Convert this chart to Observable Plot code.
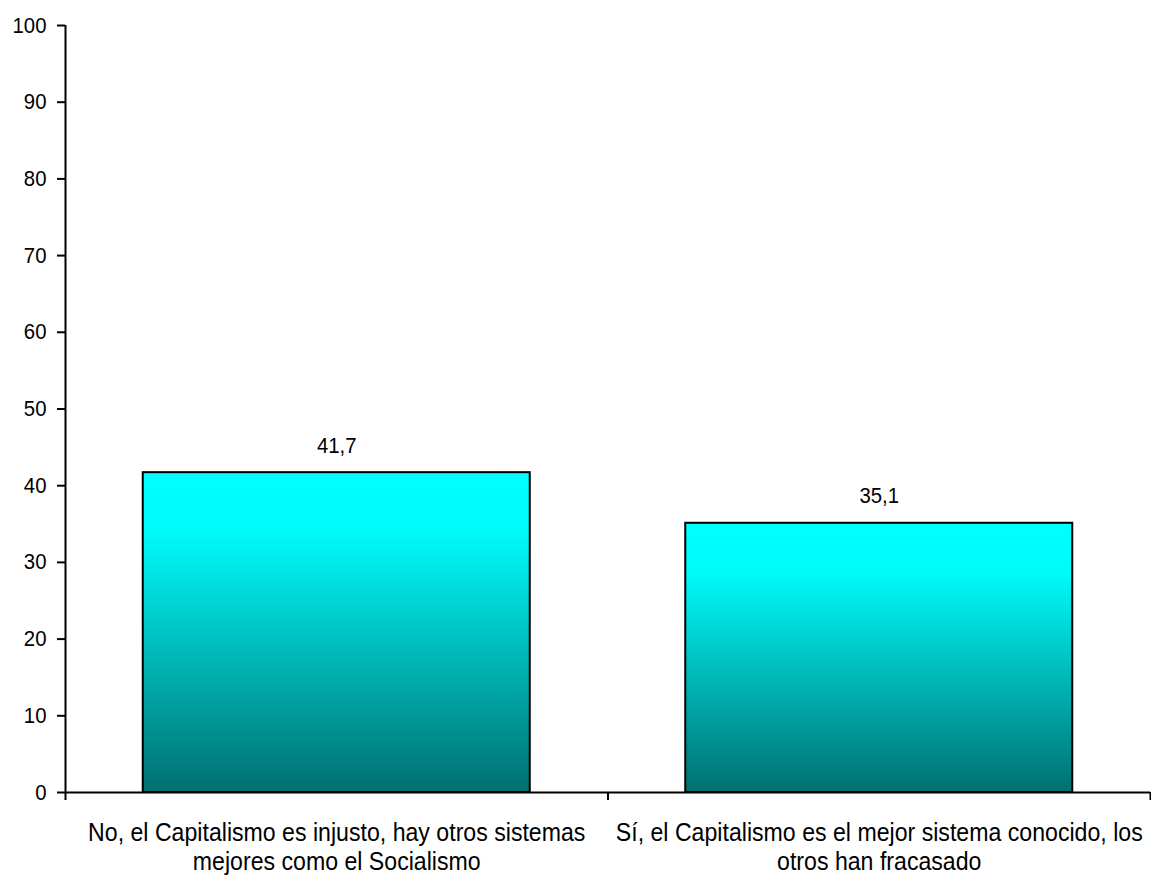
<!DOCTYPE html>
<html>
<head>
<meta charset="utf-8">
<script src="https://cdn.jsdelivr.net/npm/d3@7"></script>
<script src="https://cdn.jsdelivr.net/npm/@observablehq/plot@0.6"></script>
<style>
  html, body { margin: 0; padding: 0; background: #fff; }
  #chart svg { display: block; }
</style>
</head>
<body>
<div id="chart"></div>
<script>
const categories = [
  "No, el Capitalismo es injusto, hay otros sistemas\nmejores como el Socialismo",
  "Sí, el Capitalismo es el mejor sistema conocido, los\notros han fracasado"
];
const values = [41.7, 35.1];
const valueLabels = ["41,7", "35,1"];
const yTicks = [0, 10, 20, 30, 40, 50, 60, 70, 80, 90, 100];
const xBoundaries = [0, 1, 2];

const data = categories.map((c, i) => ({i, category: c, value: values[i], label: valueLabels[i]}));

const W = 1151, H = 882;
const font = "Liberation Sans, Arial, sans-serif";

const plot = Plot.plot({
  width: W,
  height: H,
  marginLeft: 65,
  marginRight: 1,
  marginTop: 25,
  marginBottom: 90,
  style: {fontFamily: font, fontSize: "22px", color: "#000", background: "#fff"},
  x: {type: "linear", domain: [0, 2], axis: null},
  y: {domain: [0, 100], axis: null},
  marks: [
    Plot.rectY(data, {
      x1: d => d.i, x2: d => d.i + 1, y1: 0, y2: "value",
      insetLeft: 77.75, insetRight: 77.75,
      fill: "url(#barGrad)", stroke: "#000", strokeWidth: 2
    }),
    Plot.ruleX([0], {stroke: "#000", strokeWidth: 2}),
    Plot.ruleY([0], {stroke: "#000", strokeWidth: 2}),
    Plot.axisY({ticks: yTicks, tickSize: 8, tickPadding: 11, tickFormat: d => String(d), fontSize: 22, strokeWidth: 2, anchor: "left", label: null}),
    Plot.axisX({ticks: xBoundaries, tickSize: 8, tickFormat: () => "", strokeWidth: 2, anchor: "bottom", label: null}),
    Plot.text(data, {x: d => d.i + 0.5, y: "value", text: "label", dy: -27, fontSize: 22, fill: "#000"}),
    Plot.text(data, {x: d => d.i + 0.5, y: 0, text: "category", dy: 53.5, fontSize: 25, lineHeight: 1.16, lineAnchor: "middle", fill: "#000"})
  ]
});

// Condense the glyphs horizontally (the reference uses a narrow Arial rendering)
const sx = 0.925;
plot.querySelectorAll("text").forEach(t => {
  const tr = t.getAttribute("transform");
  if (tr) {
    t.setAttribute("transform", tr + ` scale(${sx},1)`);
  } else {
    const x = +(t.getAttribute("x") || 0), y = +(t.getAttribute("y") || 0);
    t.removeAttribute("x"); t.removeAttribute("y");
    t.setAttribute("transform", `translate(${x},${y}) scale(${sx},1)`);
  }
});

const ns = "http://www.w3.org/2000/svg";
const defs = document.createElementNS(ns, "defs");
defs.innerHTML = `<linearGradient id="barGrad" x1="0" y1="0" x2="0" y2="1">
  <stop offset="0" stop-color="#00ffff"/>
  <stop offset="0.18" stop-color="#00fbfb"/>
  <stop offset="1" stop-color="#007070"/>
</linearGradient>`;
plot.insertBefore(defs, plot.firstChild);
document.getElementById("chart").appendChild(plot);
</script>
</body>
</html>
